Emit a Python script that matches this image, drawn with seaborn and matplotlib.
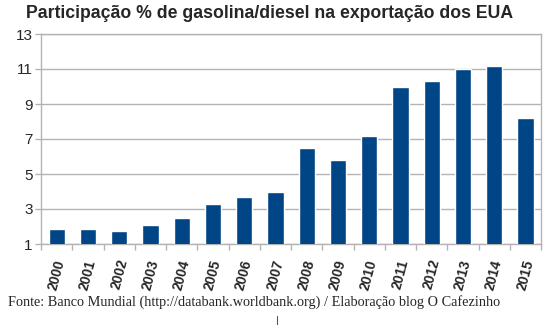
import matplotlib
matplotlib.use("Agg")
import matplotlib.pyplot as plt
from matplotlib.lines import Line2D
import seaborn as sns
import pandas as pd

years = [str(y) for y in range(2000, 2016)]
share = [1.85, 1.85, 1.75, 2.1, 2.5, 3.3, 3.7, 4.0, 6.5, 5.8, 7.2, 10.0, 10.3, 11.0, 11.2, 8.2]
y_ticks = [1, 3, 5, 7, 9, 11, 13]

title = "Participação % de gasolina/diesel na exportação dos EUA"
source = "Fonte: Banco Mundial (http://databank.worldbank.org) / Elaboração blog O Cafezinho"

sns.set_theme(style="white")
plt.rcParams["font.family"] = ["Liberation Sans", "DejaVu Sans"]

df = pd.DataFrame({"ano": years, "valor": share})

fig = plt.figure(figsize=(5.53, 3.25), dpi=100)
ax = fig.add_axes([41 / 553, 1 - 244 / 325, 500 / 553, 210 / 325])

sns.barplot(data=df, x="ano", y="valor", color="#004586", width=0.52,
            saturation=1, ax=ax, zorder=3)

ax.set_ylim(1, 13)
ax.set_yticks(y_ticks)
ax.set_xlim(-0.5, len(years) - 0.5)
ax.yaxis.grid(True, color="#b3b3b3", linewidth=1, zorder=0)
ax.set_xlabel("")
ax.set_ylabel("")

for side in ["left", "right", "top", "bottom"]:
    ax.spines[side].set_visible(True)
    ax.spines[side].set_color("#b3b3b3")
    ax.spines[side].set_linewidth(1)

ax.tick_params(axis="y", which="major", left=True, length=4, width=1,
               color="#b3b3b3", labelsize=11, pad=2)
ax.set_yticklabels([str(t) for t in y_ticks], fontsize=11)

# x ticks sit between the categories
ax.set_xticks(range(len(years)))
ax.set_xticklabels(years, rotation=75, fontsize=10, fontweight="bold",
                   ha="center", va="top")
ax.tick_params(axis="x", which="major", bottom=False, pad=4)
ax.set_xticks([i + 0.5 for i in range(-1, len(years))], minor=True)
ax.tick_params(axis="x", which="minor", bottom=True, length=4, width=1,
               color="#b3b3b3")

fig.text(270 / 553, 1 - 14 / 325, title, ha="center", va="center",
         fontsize=12.7, fontweight="bold")
fig.text(8 / 553, 1 - 302 / 325, source, ha="left", va="center",
         fontsize=10.3, family=["Liberation Serif", "DejaVu Serif"])
fig.add_artist(Line2D([277 / 553, 277 / 553], [1 - 316 / 325, 1 - 325 / 325],
                      color="#555555", linewidth=0.8))

fig.savefig("out.png", dpi=100)
